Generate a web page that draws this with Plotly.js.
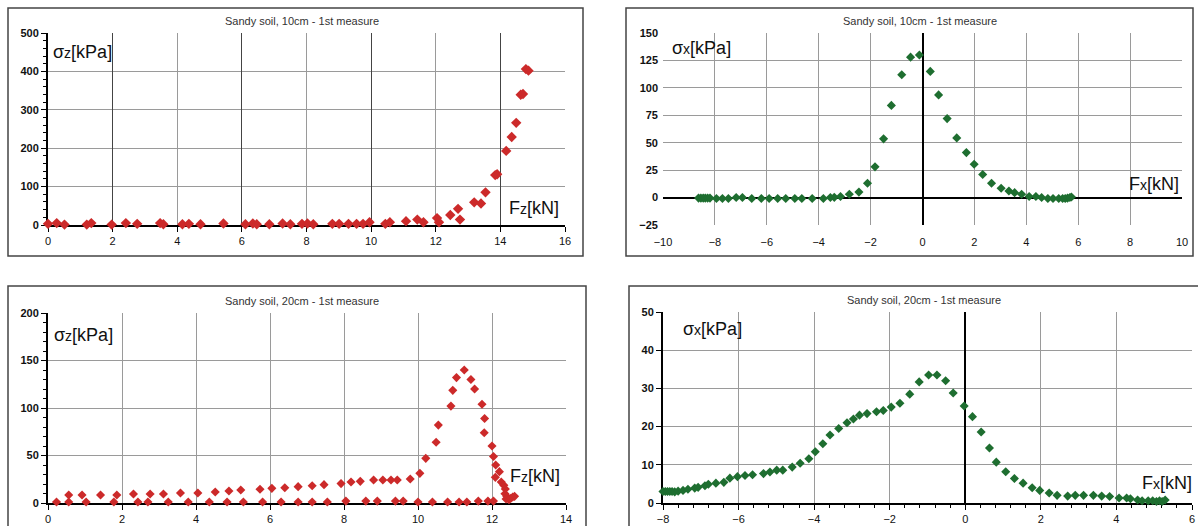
<!DOCTYPE html>
<html>
<head>
<meta charset="utf-8">
<script src="https://cdn.plot.ly/plotly-3.0.1.min.js"></script>
<style>html,body{margin:0;padding:0;background:#fff;}#chart{width:1198px;height:526px;}</style>
</head>
<body>
<div id="chart"></div>
<script>
// ---- Data ----
const titleTop = "Sandy soil, 10cm - 1st measure";
const titleBottom = "Sandy soil, 20cm - 1st measure";

// Top-left: sigma_z vs Fz, 10 cm
const fz10 = [0, 0.27, 0.51, 1.2, 1.34, 1.97, 2.41, 2.76, 3.47, 3.57, 4.16, 4.36, 4.72, 5.43, 6.11, 6.34, 6.46, 6.85, 7.26, 7.5, 7.86, 8.03, 8.21, 8.8, 9.01, 9.3, 9.55, 9.75, 9.95, 10.44, 10.58, 11.08, 11.43, 11.62, 12.04, 12.1, 12.45, 12.69, 12.75, 13.19, 13.4, 13.54, 13.84, 13.9, 14.18, 14.35, 14.49, 14.63, 14.7, 14.79, 14.87];
const sz10 = [3, 5, 1, 1, 5, 1, 5, 3, 5, 2, 2, 3, 2, 4, 2, 4, 2, 2, 4, 2, 3, 4, 2, 3, 3, 3, 3, 3, 7, 3, 7, 10, 14, 7, 18, 7, 26, 42, 14, 59, 56, 85, 130, 132, 193, 229, 266, 339, 341, 406, 402];

// Top-right: sigma_x vs Fx, 10 cm
const fx10 = [-8.63, -8.54, -8.45, -8.37, -8.28, -8.19, -7.94, -7.71, -7.48, -7.18, -6.94, -6.58, -6.21, -5.91, -5.58, -5.27, -4.92, -4.65, -4.25, -3.82, -3.55, -3.4, -3.16, -2.82, -2.45, -2.12, -1.83, -1.5, -1.2, -0.8, -0.46, -0.12, 0.3, 0.62, 0.95, 1.32, 1.69, 1.99, 2.32, 2.66, 3.03, 3.33, 3.55, 3.82, 4.11, 4.37, 4.59, 4.83, 5.03, 5.25, 5.4, 5.5, 5.59, 5.68, 5.74];
const sx10 = [-0.5, -0.5, -0.5, -0.5, -0.5, -0.5, -0.8, -0.8, -0.8, 0, 0, -0.8, -0.8, -0.8, -0.8, -0.8, -0.8, -0.8, -0.8, -0.8, 0, 0.2, 1, 3, 5, 13, 28, 53.5, 84, 112, 128, 130, 115, 93.6, 72, 54.4, 41, 30.4, 21, 13, 8.5, 6, 4.5, 3, 1, 1, 0, -0.8, -0.8, -0.8, -0.8, -0.8, -0.5, 0, 0.5];

// Bottom-left: sigma_z vs Fz, 20 cm (upper branch and near-zero branch)
const fz20a = [0.56, 0.92, 1.42, 1.86, 2.31, 2.76, 3.12, 3.58, 4.05, 4.52, 4.89, 5.21, 5.73, 6.05, 6.4, 6.76, 7.14, 7.46, 7.92, 8.19, 8.44, 8.8, 9.05, 9.27, 9.44, 9.79, 10.05, 10.21, 10.49, 10.55, 10.89, 10.94, 11.04, 11.25, 11.43, 11.53, 11.73, 11.8, 11.79, 12.0, 12.04, 12.1, 12.2, 12.09, 12.25, 12.32, 12.36, 12.35, 12.4, 12.38, 12.46, 12.51, 12.56, 12.61];
const sz20a = [8.4, 8.4, 8.4, 8.4, 9.5, 9.5, 9.5, 10.5, 10.5, 11.6, 12.6, 13.7, 14.4, 15.4, 16.1, 17.2, 18.2, 19.3, 20.4, 22.1, 22.8, 24.2, 24.2, 24.2, 24.2, 25.3, 31.2, 47, 64, 82, 102, 118.6, 132, 140, 130, 120, 104, 89, 74, 60, 49, 40, 33, 27, 22, 18.6, 14.7, 9.8, 7, 4.2, 3.5, 5, 6.3, 7];
const fz20b = [0.23, 0.56, 1.03, 1.78, 2.43, 2.7, 3.25, 3.79, 4.36, 4.84, 5.28, 5.8, 6.3, 6.76, 7.14, 7.55, 8.05, 8.59, 8.9, 9.39, 9.6, 10.0, 10.39, 10.8, 11.11, 11.32, 11.63, 11.89, 12.04];
const sz20b = [1, 1, 1, 1, 1, 1, 1, 1, 1, 1, 1, 1, 1, 1, 1, 1, 2, 2, 2, 2, 2, 1, 1, 1, 1, 1, 2, 2, 2];

// Bottom-right: sigma_x vs Fx, 20 cm
const fx20 = [-8, -7.94, -7.88, -7.82, -7.76, -7.69, -7.6, -7.47, -7.34, -7.16, -7.07, -6.89, -6.8, -6.6, -6.39, -6.23, -6.03, -5.83, -5.63, -5.34, -5.17, -4.99, -4.83, -4.58, -4.37, -4.14, -3.97, -3.77, -3.58, -3.35, -3.13, -2.96, -2.8, -2.6, -2.35, -2.17, -1.96, -1.73, -1.47, -1.22, -0.97, -0.75, -0.52, -0.32, -0.03, 0.19, 0.42, 0.64, 0.82, 1.07, 1.3, 1.53, 1.77, 1.97, 2.22, 2.43, 2.71, 2.91, 3.13, 3.39, 3.61, 3.82, 4.07, 4.27, 4.37, 4.56, 4.68, 4.84, 4.96, 5.06, 5.14, 5.21, 5.29];
const sx20 = [3.0, 3.0, 3.0, 3.0, 3.0, 2.9, 3.1, 3.3, 3.6, 3.9, 4.1, 4.5, 4.9, 5.2, 5.4, 6.5, 6.9, 7.2, 7.4, 7.7, 8.1, 8.6, 8.6, 9.4, 10.4, 11.6, 13.4, 15.5, 17.8, 19.5, 21, 22, 23, 23.4, 23.9, 24.2, 25.1, 26.1, 28.5, 31.7, 33.5, 33.5, 32, 28.8, 25.4, 22.6, 18.6, 14.4, 10.7, 8.2, 6.4, 5.2, 4.0, 3.3, 2.6, 2.0, 1.8, 2.0, 2.0, 2.0, 1.8, 1.7, 1.3, 1.3, 1.1, 0.8, 0.6, 0.6, 0.6, 0.4, 0.6, 0.4, 0.8];

// ---- Styling ----
const W = 1198, H = 526;
const px = x => x / W;
const py = y => 1 - y / H;
const RED = '#cc2a2a', GREEN = '#1e6e30';
const FONT = 'Liberation Sans, Arial, sans-serif';
const GRID = '#9a9a9a';

function mk(x, y, color, xa, ya, size) {
  return {x: x, y: y, type: 'scatter', mode: 'markers', xaxis: xa, yaxis: ya,
    marker: {symbol: 'diamond', size: size, color: color}, cliponaxis: false,
    hoverinfo: 'x+y', showlegend: false};
}

// split the top-left series in two parts so both overlaid x axes (light and dark grid) carry data
const split = 12;
const idxLow = fz10.map((v, i) => i).filter(i => fz10[i] < split);
const idxHigh = fz10.map((v, i) => i).filter(i => fz10[i] >= split);

const traces = [
  mk(idxLow.map(i => fz10[i]), idxLow.map(i => sz10[i]), RED, 'x', 'y', 8),
  mk(idxHigh.map(i => fz10[i]), idxHigh.map(i => sz10[i]), RED, 'x5', 'y', 8),
  mk(fx10, sx10, GREEN, 'x2', 'y2', 7),
  mk(fz20a, sz20a, RED, 'x3', 'y3', 7),
  mk(fz20b, sz20b, RED, 'x3', 'y3', 7),
  mk(fx20, sx20, GREEN, 'x4', 'y4', 7)
];

const xTickFont = {family: FONT, size: 11, color: '#111'};
const yTickFont = {family: FONT, size: 11, color: '#111', weight: 'bold'};

const baseX = {gridcolor: GRID, gridwidth: 1, zeroline: false, tickfont: xTickFont, fixedrange: true, layer: 'below traces'};
const baseY = {gridcolor: GRID, gridwidth: 1, zeroline: false, tickfont: yTickFont, fixedrange: true, layer: 'below traces'};

const layout = {
  width: W, height: H,
  margin: {l: 0, r: 0, t: 0, b: 0},
  paper_bgcolor: '#fff', plot_bgcolor: '#fff',
  font: {family: FONT, color: '#111'},
  showlegend: false,
  // Top-left
  xaxis: Object.assign({}, baseX, {domain: [px(48), px(565)], anchor: 'y', range: [0, 16], dtick: 2,
    showline: true, linecolor: '#000', linewidth: 2, ticks: 'outside', ticklen: 5, tickcolor: '#000'}),
  yaxis: Object.assign({}, baseY, {domain: [py(225), py(33)], anchor: 'x', range: [0, 500], dtick: 100,
    showline: true, linecolor: '#000', linewidth: 2, ticks: 'outside', ticklen: 5, tickcolor: '#000',
    minor: {dtick: 20, ticks: 'outside', ticklen: 3, tickcolor: '#000', showgrid: false}}),
  xaxis5: {overlaying: 'x', anchor: 'y', domain: [px(48), px(565)], range: [0, 16], tick0: 2, dtick: 4, showgrid: true,
    gridcolor: '#444444', gridwidth: 1.2, showticklabels: false, ticks: '', zeroline: false, showline: false, fixedrange: true},
  // Top-right
  xaxis2: Object.assign({}, baseX, {domain: [px(663), px(1182)], anchor: 'y2', range: [-10, 10], dtick: 2,
    zeroline: true, zerolinecolor: '#000', zerolinewidth: 2, ticks: '', ticklabelstandoff: 9}),
  yaxis2: Object.assign({}, baseY, {domain: [py(225), py(33)], anchor: 'x2', range: [-25, 150], dtick: 25,
    zeroline: true, zerolinecolor: '#000', zerolinewidth: 2, ticks: '', ticklabelstandoff: 4}),
  // Bottom-left
  xaxis3: Object.assign({}, baseX, {domain: [px(48), px(566)], anchor: 'y3', range: [0, 14], dtick: 2,
    showline: true, linecolor: '#000', linewidth: 2, ticks: 'outside', ticklen: 5, tickcolor: '#000'}),
  yaxis3: Object.assign({}, baseY, {domain: [py(503), py(313)], anchor: 'x3', range: [0, 200], dtick: 50,
    showline: true, linecolor: '#000', linewidth: 2, ticks: 'outside', ticklen: 5, tickcolor: '#000',
    minor: {dtick: 10, ticks: 'outside', ticklen: 3, tickcolor: '#000', showgrid: false}}),
  // Bottom-right
  xaxis4: Object.assign({}, baseX, {domain: [px(663), px(1192)], anchor: 'y4', range: [-8, 6], dtick: 2,
    showline: true, linecolor: '#000', linewidth: 2, ticks: 'outside', ticklen: 5, tickcolor: '#000',
    zeroline: true, zerolinecolor: '#000', zerolinewidth: 2,
    minor: {dtick: 0.4, ticks: 'outside', ticklen: 3, tickcolor: '#000', showgrid: false}}),
  yaxis4: Object.assign({}, baseY, {domain: [py(503), py(312)], anchor: 'x4', range: [0, 50], dtick: 10,
    showline: true, linecolor: '#000', linewidth: 2, ticks: 'outside', ticklen: 5, tickcolor: '#000'}),
  shapes: [
    {type: 'rect', xref: 'paper', yref: 'paper', x0: px(8), x1: px(583), y0: py(256), y1: py(8), line: {color: '#444', width: 1.5}},
    {type: 'rect', xref: 'paper', yref: 'paper', x0: px(626), x1: px(1193), y0: py(256), y1: py(8), line: {color: '#444', width: 1.5}},
    {type: 'rect', xref: 'paper', yref: 'paper', x0: px(8), x1: px(586), y0: py(540), y1: py(286), line: {color: '#444', width: 1.5}},
    {type: 'rect', xref: 'paper', yref: 'paper', x0: px(629), x1: px(1210), y0: py(540), y1: py(286), line: {color: '#444', width: 1.5}}
  ],
  annotations: []
};

function title(text, cx, cy) {
  return {text: text, xref: 'paper', yref: 'paper', x: px(cx), y: py(cy), xanchor: 'center', yanchor: 'middle',
    showarrow: false, font: {family: FONT, size: 11, color: '#333'}};
}
function lab(main, sub, rest, x, y, anchor) {
  return {text: main + '<span style="font-size:14px">' + sub + '</span>' + rest, xref: 'paper', yref: 'paper',
    x: px(x), y: py(y), xanchor: anchor, yanchor: 'middle', showarrow: false,
    font: {family: FONT, size: 18, color: '#111'}, bgcolor: 'rgba(255,255,255,0)'};
}
layout.annotations.push(
  title(titleTop, 302, 21), title(titleTop, 920, 21),
  title(titleBottom, 302, 301), title(titleBottom, 924, 300),
  lab('σ', 'z', '[kPa]', 51, 52, 'left'), lab('F', 'z', '[kN]', 561, 208, 'right'),
  lab('σ', 'x', '[kPa]', 670, 48, 'left'), lab('F', 'x', '[kN]', 1181, 184, 'right'),
  lab('σ', 'z', '[kPa]', 52, 335, 'left'), lab('F', 'z', '[kN]', 562, 476, 'right'),
  lab('σ', 'x', '[kPa]', 681, 329, 'left'), lab('F', 'x', '[kN]', 1194, 483, 'right')
);

Plotly.newPlot('chart', traces, layout, {staticPlot: true, displayModeBar: false});
</script>
</body>
</html>
